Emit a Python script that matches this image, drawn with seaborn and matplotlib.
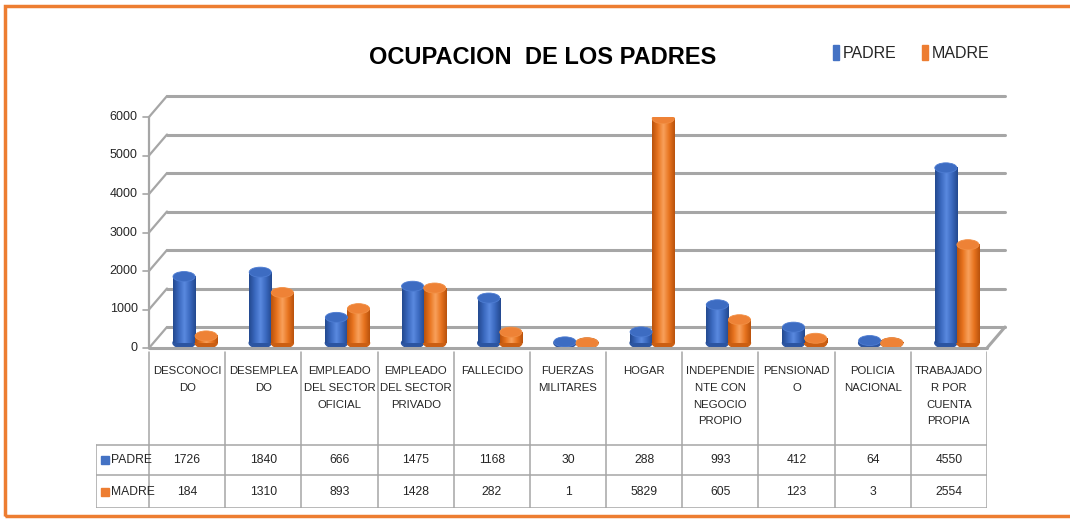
import numpy as np
import pandas as pd
import matplotlib
matplotlib.use("Agg")
import matplotlib.pyplot as plt
import seaborn as sns
from matplotlib.transforms import ScaledTranslation
from matplotlib.patches import Ellipse, Rectangle
from matplotlib.colors import LinearSegmentedColormap

categorias = ["DESCONOCIDO", "DESEMPLEADO", "EMPLEADO DEL SECTOR OFICIAL",
              "EMPLEADO DEL SECTOR PRIVADO", "FALLECIDO", "FUERZAS MILITARES",
              "HOGAR", "INDEPENDIENTE CON NEGOCIO PROPIO", "PENSIONADO",
              "POLICIA NACIONAL", "TRABAJADOR POR CUENTA PROPIA"]
etiquetas = ["DESCONOCI\nDO", "DESEMPLEA\nDO", "EMPLEADO\nDEL SECTOR\nOFICIAL",
             "EMPLEADO\nDEL SECTOR\nPRIVADO", "FALLECIDO", "FUERZAS\nMILITARES",
             "HOGAR", "INDEPENDIE\nNTE CON\nNEGOCIO\nPROPIO", "PENSIONAD\nO",
             "POLICIA\nNACIONAL", "TRABAJADO\nR POR\nCUENTA\nPROPIA"]
padre = [1726, 1840, 666, 1475, 1168, 30, 288, 993, 412, 64, 4550]
madre = [184, 1310, 893, 1428, 282, 1, 5829, 605, 123, 3, 2554]
series = ["PADRE", "MADRE"]
yticks = [0, 1000, 2000, 3000, 4000, 5000, 6000]

azul = "#4472c4"
naranja = "#ed7d31"
gris = "#A6A6A6"
fuente = ["Liberation Sans", "DejaVu Sans"]

df = pd.DataFrame({
    "ocupacion": categorias * 2,
    "valor": padre + madre,
    "grupo": [series[0]] * len(padre) + [series[1]] * len(madre),
})

sns.set_style("white")
plt.rcParams["font.family"] = fuente

W, H = 1070, 521
fig = plt.figure(figsize=(W / 100, H / 100), dpi=100)


def fr(x0, y0, x1, y1):
    return [x0 / W, 1 - y1 / H, (x1 - x0) / W, (y1 - y0) / H]


ax = fig.add_axes(fr(149, 117, 987, 348))
sns.barplot(data=df, x="ocupacion", y="valor", hue="grupo", order=categorias,
            palette=[azul, naranja], width=0.58, saturation=1, legend=False, ax=ax)
ax.set_xlim(-0.5, 10.5)
ax.set_ylim(0, 6000)
ax.axis("off")

# perspectiva tipo excel 3D
px_x = 838 / 11          # px por categoria
px_y = 231 / 6000        # px por unidad
back = ax.transData + ScaledTranslation(0.18, 0.21, fig.dpi_scale_trans)
mid = ax.transData + ScaledTranslation(0.08, 0.05, fig.dpi_scale_trans)
dxd, dyd = 18 / px_x, 21 / px_y

for v in yticks:
    ax.plot([-0.5, 10.5], [v, v], color=gris, lw=2.2, transform=back, clip_on=False, zorder=1)
    ax.plot([-0.5, -0.5 + dxd], [v, v + dyd], color=gris, lw=1.6, clip_on=False, zorder=1)
    ax.plot([-0.58, -0.5], [v, v], color=gris, lw=1.2, clip_on=False, zorder=1)
    ax.text(-0.65, v, f"{v}", ha="right", va="center", fontsize=9, color="#262626")
ax.plot([-0.5, -0.5], [0, 6000], color=gris, lw=1.6, clip_on=False, zorder=1)
ax.plot([-0.5, 10.5], [0, 0], color=gris, lw=2.2, clip_on=False, zorder=6)
ax.plot([10.5, 10.5 + dxd], [0, dyd], color=gris, lw=2.2, clip_on=False, zorder=6)

# cilindros
cmaps = {
    azul: LinearSegmentedColormap.from_list("a", ["#23498F", "#3A68BE", "#5A8AE0", "#3A68BE", "#23498F"]),
    naranja: LinearSegmentedColormap.from_list("n", ["#B9520C", "#E8741F", "#F9A15C", "#E8741F", "#B9520C"]),
}
caps = {azul: "#3D6CC2", naranja: "#EE8236"}
grad = np.linspace(0, 1, 64).reshape(1, -1)
cap_h = 10 / px_y
for p in list(ax.patches):
    x0, w, h = p.get_x(), p.get_width(), p.get_height()
    col = matplotlib.colors.to_hex(p.get_facecolor()).lower()
    p.set_visible(False)
    base = Ellipse((x0 + w / 2, 0), w, cap_h, color=cmaps[col](0.1), transform=mid, zorder=3)
    ax.add_patch(base)
    im = ax.imshow(grad, extent=[x0, x0 + w, 0, h], aspect="auto", cmap=cmaps[col],
                   zorder=4, interpolation="bilinear")
    im.set_transform(mid)
    top = Ellipse((x0 + w / 2, h), w, cap_h, facecolor=caps[col], edgecolor=cmaps[col](0.6),
                  lw=0.6, transform=mid, zorder=5)
    ax.add_patch(top)
ax.set_xlim(-0.5, 10.5)
ax.set_ylim(0, 6000)

# tabla de datos
tax = fig.add_axes(fr(96, 349, 987, 508))
xl = -0.5 - 53 / px_x
tax.set_xlim(xl, 10.5)
tax.set_ylim(159, 0)
tax.axis("off")
for k in range(12):
    tax.plot([k - 0.5, k - 0.5], [3, 159], color=gris, lw=1.1)
tax.plot([xl, xl], [96, 159], color=gris, lw=1.1)
for yy in [96, 126, 159]:
    tax.plot([xl, 10.5], [yy, yy], color=gris, lw=1.1)
for i, lab in enumerate(etiquetas):
    tax.text(i, 17, lab, ha="center", va="top", fontsize=8.2, linespacing=1.85, color="#262626")
    tax.text(i, 111, f"{padre[i]}", ha="center", va="center", fontsize=8.7, color="#262626")
    tax.text(i, 143, f"{madre[i]}", ha="center", va="center", fontsize=8.7, color="#262626")
for yy, nom, col in [(111, series[0], azul), (143, series[1], naranja)]:
    tax.add_patch(Rectangle((xl + 0.07, yy - 4), 0.1, 8, color=col))
    tax.text(xl + 0.2, yy, nom, ha="left", va="center", fontsize=8.7, color="#262626")

# titulo y leyenda
fig.text(543 / W, 1 - 57 / H, "OCUPACION  DE LOS PADRES", ha="center", va="center",
         fontsize=17, fontweight="bold", color="black")
for x, nom, col in [(833, series[0], azul), (922, series[1], naranja)]:
    fig.patches.append(Rectangle((x / W, 1 - 60 / H), 6 / W, 15 / H, color=col,
                                 transform=fig.transFigure))
    fig.text((x + 10) / W, 1 - 53 / H, nom, ha="left", va="center", fontsize=11.5, color="#262626")

# borde naranja
fig.patches.append(Rectangle((5 / W, 1 - 516 / H), 1.1, (516 - 6) / H, fill=False,
                             edgecolor=naranja, lw=2.5, transform=fig.transFigure))

fig.savefig("out.png", dpi=100, facecolor="white")
